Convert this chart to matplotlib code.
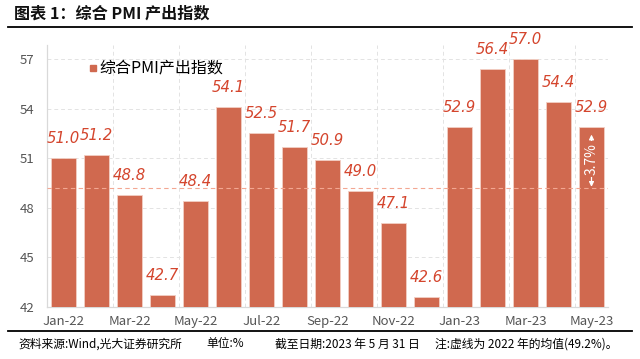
import matplotlib
matplotlib.use("Agg")
import matplotlib.pyplot as plt
from matplotlib.lines import Line2D

plt.rcParams["font.family"] = ["Noto Sans CJK SC", "DejaVu Sans"]

MONTHS = ["Jan-22", "Feb-22", "Mar-22", "Apr-22", "May-22", "Jun-22", "Jul-22",
          "Aug-22", "Sep-22", "Oct-22", "Nov-22", "Dec-22", "Jan-23", "Feb-23",
          "Mar-23", "Apr-23", "May-23"]
PMI = [51.0, 51.2, 48.8, 42.7, 48.4, 54.1, 52.5, 51.7, 50.9, 49.0, 47.1, 42.6,
       52.9, 56.4, 57.0, 54.4, 52.9]
AVG_2022 = 49.2
GAP_LABEL = "3.7%"
YTICKS = [42, 45, 48, 51, 54, 57]

BAR = "#D0694F"
LBL = "#D4452D"

W, H = 640, 359
fig = plt.figure(figsize=(W / 100, H / 100), dpi=100)
ax = fig.add_axes([47 / W, 1 - 307 / H, (608 - 47) / W, (307 - 45) / H])

x = list(range(len(PMI)))
ax.bar(x, [v - 42 for v in PMI], bottom=42, width=0.78, color=BAR,
       edgecolor="#F2CFC4", linewidth=0.6, zorder=3)

for xi, v in zip(x, PMI):
    ax.annotate(f"{v:.1f}", (xi, v), textcoords="offset points", xytext=(0, 14),
                ha="center", va="center", fontsize=10.7, color=LBL,
                family="DejaVu Sans", style="oblique", zorder=5)

# 2022 average
ax.axhline(AVG_2022, color="#F3A792", lw=0.8, ls=(0, (4, 3)), zorder=4)

# gap arrow on last bar
last = len(PMI) - 1
ax.annotate("", xy=(last, PMI[last] - 0.3), xytext=(last, AVG_2022 - 0.1),
            arrowprops=dict(arrowstyle="<|-|>", color="white", lw=0.9,
                            mutation_scale=7), zorder=6)
ax.text(last, (PMI[last] + AVG_2022) / 2 - 0.1, GAP_LABEL, rotation=90,
        ha="center", va="center", color="white", fontsize=10, zorder=7,
        bbox=dict(boxstyle="square,pad=0.12", fc=BAR, ec="none"))

ax.set_xlim(-0.5, len(PMI) - 0.5)
ax.set_ylim(42, 57.85)
ax.set_yticks(YTICKS)
ax.set_xticks(x[::2])
ax.set_xticklabels(MONTHS[::2])
ax.set_xticks([i + 0.5 for i in x[1::2]], minor=True)
ax.tick_params(axis="both", which="both", length=0, colors="#555555",
               labelsize=9.5)
ax.tick_params(axis="x", pad=6)
ax.tick_params(axis="y", pad=9)
ax.grid(True, axis="y", which="major", color="#E3E3E3", ls=(0, (4, 3)), lw=0.7)
ax.grid(True, axis="x", which="minor", color="#E3E3E3", ls=(0, (4, 3)), lw=0.7)
for s in ("top", "right"):
    ax.spines[s].set_visible(False)
for s in ("left", "bottom"):
    ax.spines[s].set_color("#D9D9D9")
    ax.spines[s].set_linewidth(0.9)
ax.set_axisbelow(True)

handle = Line2D([], [], marker="s", ls="none", color=BAR, markersize=4.5)
ax.legend([handle], ["综合PMI产出指数"], loc="upper left",
          bbox_to_anchor=(0.053, 0.985), frameon=False, fontsize=11.5,
          handlelength=0.6, handletextpad=0.15, borderpad=0.2)

# title and rules
fig.text(14 / W, 1 - 14 / H, "图表 1：综合 PMI 产出指数", fontsize=11.6,
         fontweight="bold", va="center", ha="left", color="#111111")
fig.add_artist(Line2D([8 / W, 632 / W], [1 - 27 / H] * 2, color="black", lw=1.3))
fig.add_artist(Line2D([8 / W, 632 / W], [1 - 331 / H] * 2, color="black", lw=1.3))

foot_y = 1 - 344 / H
fig.text(18 / W, foot_y, "资料来源:Wind,光大证券研究所", fontsize=8.5, va="center")
fig.text(206 / W, foot_y, "单位:%", fontsize=8.5, va="center")
fig.text(275 / W, foot_y, "截至日期:2023 年 5 月 31 日", fontsize=8.5, va="center")
fig.text(435 / W, foot_y, "注:虚线为 2022 年的均值(49.2%)。", fontsize=8.5, va="center")

fig.savefig("out.png", dpi=100)
